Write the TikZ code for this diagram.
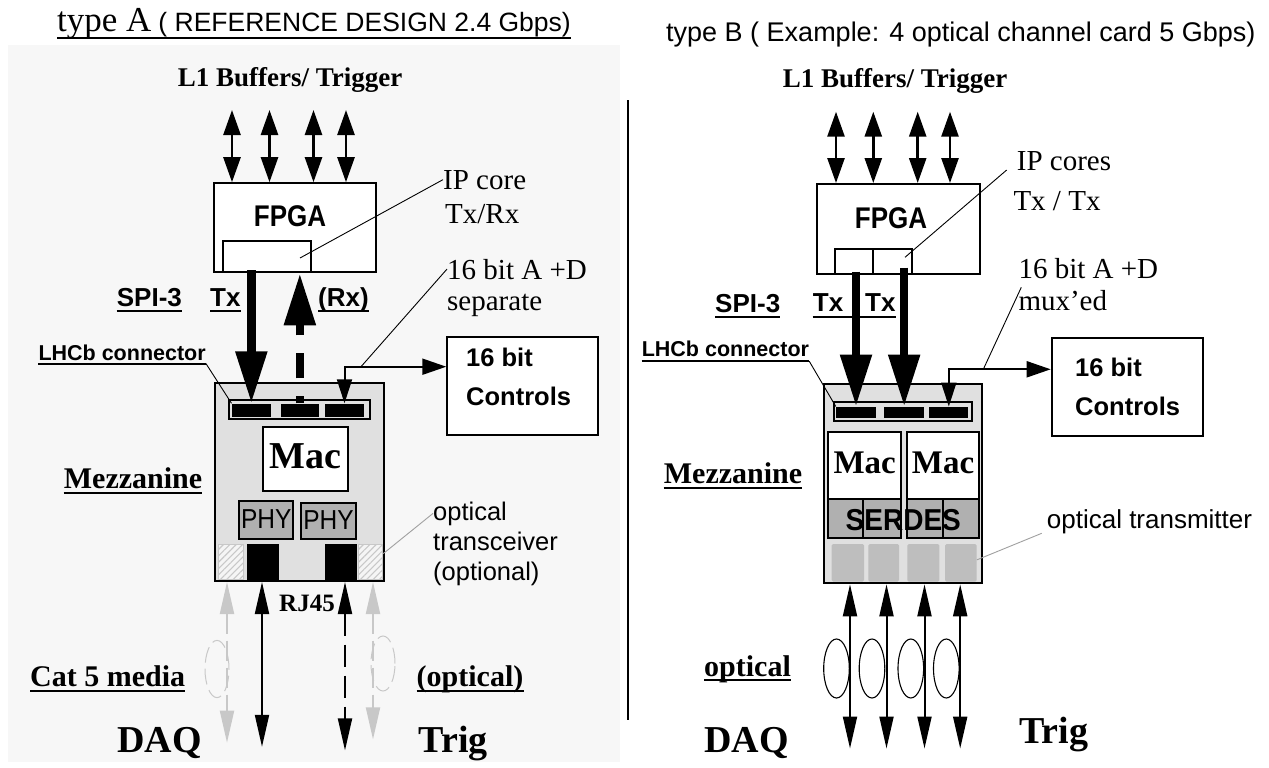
\documentclass[tikz,border=0pt]{standalone}
\usepackage{fontspec}
\setmainfont{Liberation Serif}
\setsansfont{Liberation Sans}
\usetikzlibrary{arrows.meta,patterns.meta}
\newcommand\tsz[1]{\fontsize{#1pt}{#1pt}\selectfont}
% underline a label node
\newcommand\ulab[2][4.5]{\draw[uline] ([yshift=-#1pt]#2.base west) -- ([yshift=-#1pt]#2.base east);}
\definecolor{panel}{HTML}{F7F7F7}
\definecolor{mezz}{HTML}{E0E0E0}
\definecolor{chip}{HTML}{B0B0B0}
\definecolor{port}{HTML}{BEBEBE}
\definecolor{faint}{HTML}{C8C8C8}
\definecolor{leadgray}{HTML}{A0A0A0}
\begin{document}
\begin{tikzpicture}[x=1pt,y=-1pt,
  lab/.style={inner sep=0pt,anchor=base west},
  labc/.style={inner sep=0pt,anchor=base},
  frame/.style={draw=black,line width=2pt,inner sep=0pt},
  blk/.style={fill=black,inner sep=0pt},
  lead/.style={line width=0.9pt},
  uline/.style={line width=2pt},
  bus/.style={line width=2.6pt,{Triangle[length=25pt,width=17pt]}-{Triangle[length=25pt,width=17pt]}},
  fat/.style={line width=8.5pt,-{Triangle[length=52pt,width=30pt]}},
  ctl/.style={line width=2pt,{Triangle[length=24pt,width=15pt]}-{Triangle[length=24pt,width=16pt]}},
  link/.style={line width=2pt,{Triangle[length=32pt,width=14pt]}-{Triangle[length=32pt,width=14pt]}},
  ghost/.style={link,draw=faint,dash pattern=on 20pt off 7pt},
  hatch/.style={draw=faint,line width=1pt,inner sep=0pt,preaction={fill=white!96!black},
    pattern={Lines[angle=45,distance=4.5pt,line width=1.1pt]},pattern color=faint},
  optport/.style={fill=port,rounded corners=1.5pt,inner sep=0pt},
  serif/.style={font={\tsz{#1}}},
  serifb/.style={font={\bfseries\tsz{#1}}},
  sans/.style={font={\sffamily\tsz{#1}}},
  sansb/.style={font={\sffamily\bfseries\tsz{#1}}},
]
\useasboundingbox (0,0) rectangle (1269,768);
\fill[white] (0,0) rectangle (1269,768);
\fill[panel] (8,45) rectangle (620,762);

% ================= type A =================
\node[lab] (ttlA) at (57,32) {{\tsz{35}type A}\hspace{7pt}{\sffamily\tsz{26.5}( REFERENCE DESIGN 2.4 Gbps)}};
\draw[line width=1.4pt] ([yshift=-6pt]ttlA.base west) -- ([yshift=-6pt]ttlA.base east);

\node[labc,serifb=27] (l1A) at (290,87) {L1 Buffers/ Trigger};
\node[frame,fill=white,minimum width=162pt,minimum height=89pt] (fpgaA) at (295,227.7) {};
\node[labc,sansb=26] at (290,226.7) {\scalebox{1}[1.15]{FPGA}};
\node[frame,fill=white,minimum width=88.3pt,minimum height=31.6pt] (ipA) at (266.9,256.5) {};
\foreach \x [count=\i] in {232,269.5,313.5,346}{
  \coordinate (busA\i) at (\x,110);
  \draw[bus] (busA\i) -- (busA\i |- fpgaA.north);
}
\node[lab,serif=29] (ipcA) at (443,189) {IP core};
\node[lab,serif=29] (ipcA2) at (445,223) {Tx/Rx};
\coordinate (ipAin) at (300,258);
\draw[lead] (ipcA.west) -- (ipAin);

\node[lab,sansb=26] (spiA) at (116.7,306.7) {SPI-3};
\node[lab,sansb=26] (txA) at (210,306.7) {Tx};
\node[lab,sansb=26] (rxA) at (318,306.7) {(Rx)};
\node[lab,sansb=21.5] (lhcA) at (38.3,360) {LHCb connector};
\ulab{spiA}\ulab{txA}\ulab{rxA}\ulab[3.5]{lhcA}

% mezzanine card
\node[frame,fill=mezz,minimum width=169pt,minimum height=198.3pt] (mezzA) at (299.5,481.85) {};
\node[frame,fill=mezz,minimum width=140.7pt,minimum height=18.7pt] (stripA) at (299.65,409.65) {};
\node[blk,minimum width=39.3pt,minimum height=13.2pt] (bA1) at (251.35,410.1) {};
\node[blk,minimum width=38.3pt,minimum height=13.2pt] (bA2) at (299.85,410.1) {};
\node[blk,minimum width=39pt,minimum height=13.2pt] (bA3) at (344.5,410.1) {};
\draw[lead] ([yshift=-3.5pt]lhcA.base east) -- (bA1.north west);

\node[frame,fill=white,minimum width=85pt,minimum height=64pt] (macA) at (305.8,458.7) {};
\node[labc,serifb=38] at (305.8,468.3) {Mac};
\node[frame,fill=chip,minimum width=54pt,minimum height=38.3pt] (phyA1) at (266.3,520.15) {};
\node[frame,fill=chip,minimum width=55pt,minimum height=36pt] (phyA2) at (328.5,521.3) {};
\node[labc,sans=24.5] at (266.3,528.3) {\scalebox{1}[1.12]{PHY}};
\node[labc,sans=24.5] at (328.5,529.5) {\scalebox{1}[1.12]{PHY}};

\node[hatch,minimum width=25pt,minimum height=35.3pt] (hA1) at (230.8,561.65) {};
\node[blk,minimum width=32pt,minimum height=36pt] (pA1) at (263.3,562) {};
\node[blk,minimum width=31.7pt,minimum height=36pt] (pA2) at (340.85,562) {};
\node[hatch,minimum width=24.4pt,minimum height=35.3pt] (hA2) at (370.5,561.65) {};

\node[labc,serifb=25] (rj) at (307,611) {RJ45};

\node[lab,sans=25.5] (otA1) at (433,520) {optical};
\node[lab,sans=25.5] (otA2) at (433,550) {transceiver};
\node[lab,sans=25.5] (otA3) at (433,580) {(optional)};
\draw[lead,draw=leadgray] ([yshift=8pt]hA2.east) -- (otA1.west);

% SPI-3 links between FPGA core and connector
\draw[fat] ([yshift=3pt]ipA.south -| bA1.north) -- (bA1.north);
\draw[fat,dash pattern=on 25pt off 18pt,dash phase=18pt] (bA2.north) -- (bA2.north |- ipA.south);

% controls
\node[frame,fill=white,minimum width=151pt,minimum height=98.3pt] (ctrlA) at (522.8,385.85) {};
\node[lab,sansb=25.5] at (466,366.7) {16 bit};
\node[lab,sansb=25.5] at (466,405) {Controls};
\coordinate (kA) at (344.5,366.7);
\draw[ctl] (bA3.north) -- (kA) -- (kA -| ctrlA.west);
\node[lab,serif=29] (abA) at (447,279) {16 bit A +D};
\node[lab,serif=29] (abA2) at (447,310) {separate};
\coordinate (jA) at (361,366.7);
\draw[lead] (jA) -- (abA.west);

% media below the card
\coordinate (gA1) at (227,742.7);
\coordinate (dA1) at (262,746.8);
\coordinate (dA2) at (345,750.4);
\coordinate (gA2) at (373,739.4);
\draw[ghost] (gA1 |- mezzA.south) -- (gA1);
\draw[ghost] (gA2 |- mezzA.south) -- (gA2);
\draw[link] (dA1 |- mezzA.south) -- (dA1);
\draw[link,dash pattern=on 22pt off 9pt] (dA2 |- mezzA.south) -- (dA2);
\draw[faint,line width=1pt,dash pattern=on 16pt off 6pt] (217,669) ellipse [x radius=12pt,y radius=28.6pt];
\draw[faint,line width=1pt,dash pattern=on 16pt off 6pt] (383,663.5) ellipse [x radius=12pt,y radius=27.5pt];

\node[lab,serifb=30] (catA) at (30,686.6) {Cat 5 media};
\node[lab,serifb=30] (optA) at (416.5,686.6) {(optical)};
\ulab[4]{catA}\ulab[4]{optA}
\node[lab,serifb=38] (daqA) at (117,752.6) {DAQ};
\node[lab,serifb=38] (trgA) at (418.5,752.6) {Trig};

% separator
\coordinate (divT) at (628,100);
\coordinate (divB) at (628,720);
\draw[line width=2pt] (divT) -- (divB);

% ================= type B =================
\node[lab,sans=27] (ttlB) at (666,42) {type B ( Example: 4 optical channel card 5 Gbps)};
\node[labc,serifb=27] (l1B) at (895,88) {L1 Buffers/ Trigger};
\node[frame,fill=white,minimum width=162.7pt,minimum height=90pt] (fpgaB) at (898.65,229) {};
\node[labc,sansb=26] at (891,228.3) {\scalebox{1}[1.15]{FPGA}};
\node[frame,fill=white,minimum width=38.3pt,minimum height=25pt] (ipB1) at (854.15,261.5) {};
\node[frame,fill=white,minimum width=38.4pt,minimum height=25pt] (ipB2) at (892.5,261.5) {};
\foreach \x [count=\i] in {836,873.3,917.7,950}{
  \coordinate (busB\i) at (\x,111.7);
  \draw[bus] (busB\i) -- (busB\i |- fpgaB.north);
}
\node[lab,serif=29] (ipcB) at (1016.7,170) {IP cores};
\node[lab,serif=29] (ipcB2) at (1013.3,210) {Tx / Tx};
\coordinate (ipBin) at (905,257.3);
\draw[lead] ([xshift=-10pt]ipcB.base west) -- (ipBin);

\node[lab,sansb=26] (spiB) at (715,312) {SPI-3};
\node[lab,sansb=26] (txB1) at (812.7,311.7) {Tx};
\node[lab,sansb=26] (txB2) at (865,311.7) {Tx};
\node[lab,sansb=21.5] (lhcB) at (641.6,356.7) {LHCb connector};
\ulab{spiB}\ulab{lhcB}
\draw[uline] ([yshift=-5pt]txB1.base west) -- ([yshift=-5pt]txB2.base east);

\node[frame,fill=mezz,minimum width=158.2pt,minimum height=199pt] (mezzB) at (902.6,483.8) {};
\node[frame,fill=mezz,minimum width=138pt,minimum height=18.4pt] (stripB) at (903,411.5) {};
\node[blk,minimum width=40pt,minimum height=11.6pt] (bB1) at (856,412.5) {};
\node[blk,minimum width=39.7pt,minimum height=11.6pt] (bB2) at (904.15,412.5) {};
\node[blk,minimum width=39pt,minimum height=11.6pt] (bB3) at (948.8,412.5) {};
\draw[lead] ([yshift=-4.5pt]lhcB.base east) -- (bB1.north west);

\node[frame,fill=white,minimum width=72.7pt,minimum height=66.7pt] (macB1) at (864.65,465.65) {};
\node[frame,fill=white,minimum width=72.7pt,minimum height=66.7pt] (macB2) at (943,465.65) {};
\node[labc,serifb=33] at (864.65,473.3) {Mac};
\node[labc,serifb=33] at (943,473.3) {Mac};
\node[frame,fill=chip,minimum width=72.7pt,minimum height=39.3pt] (serB1) at (864.65,518.65) {};
\node[frame,fill=chip,minimum width=72.7pt,minimum height=39.3pt] (serB2) at (943,518.65) {};
\draw[line width=2pt] (serB1.north -| 862.7,0) -- (serB1.south -| 862.7,0);
\draw[line width=2pt] (serB2.north -| 943.3,0) -- (serB2.south -| 943.3,0);
\node[labc,sansb=28] at (903.3,530) {\scalebox{1}[1.08]{SERDES}};

\node[optport,minimum width=32.3pt,minimum height=37.7pt] (oB1) at (847.85,562.85) {};
\node[optport,minimum width=30.7pt,minimum height=37.7pt] (oB2) at (883.65,562.85) {};
\node[optport,minimum width=32pt,minimum height=37.7pt] (oB3) at (923.3,562.85) {};
\node[optport,minimum width=31.7pt,minimum height=37.7pt] (oB4) at (960.85,562.85) {};
\node[lab,sans=26] (otB) at (1046.7,528.3) {optical transmitter};
\draw[lead,draw=leadgray] ([yshift=3pt]oB4.east) -- ([xshift=-5pt,yshift=-5pt]otB.base west);

\draw[fat] ([yshift=3.3pt]ipB1.south -| bB1.north) -- (bB1.north);
\draw[fat] ([yshift=7.3pt]ipB2.south -| bB2.north) -- (bB2.north);

\node[frame,fill=white,minimum width=151.3pt,minimum height=97.7pt] (ctrlB) at (1127.35,387.15) {};
\node[lab,sansb=25.5] at (1075,376.7) {16 bit};
\node[lab,sansb=25.5] at (1075,415) {Controls};
\coordinate (kB) at (948.8,369.3);
\draw[ctl] (bB3.north) -- (kB) -- (kB -| ctrlB.west);
\node[lab,serif=29] (abB) at (1018.3,278.3) {16 bit A +D};
\node[lab,serif=29] (abB2) at (1018.3,310) {mux'ed};
\coordinate (jB) at (983.3,369.3);
\draw[lead] (jB) -- ([xshift=3pt,yshift=-9pt]abB.base west);

\node[lab,serifb=30] (mzB) at (663.7,483.3) {Mezzanine};
\node[lab,serifb=30] (mzA) at (63.7,488) {Mezzanine};
\ulab{mzA}\ulab{mzB}

% optical fibres
\foreach \x/\cx [count=\i] in {850/836.5,886.5/872,924.5/910.8,960.2/946.3}{
  \coordinate (dB\i) at (\x,748.5);
  \draw[link] (dB\i |- mezzB.south) -- (dB\i);
  \draw[line width=1.1pt] (\cx,668.5) ellipse [x radius=12.8pt,y radius=29.5pt];
}
\node[lab,serifb=30] (optB) at (704,676) {optical};
\ulab[4]{optB}
\node[lab,serifb=38] (daqB) at (704,752) {DAQ};
\node[lab,serifb=38] (trgB) at (1019,743) {Trig};
\end{tikzpicture}
\end{document}
